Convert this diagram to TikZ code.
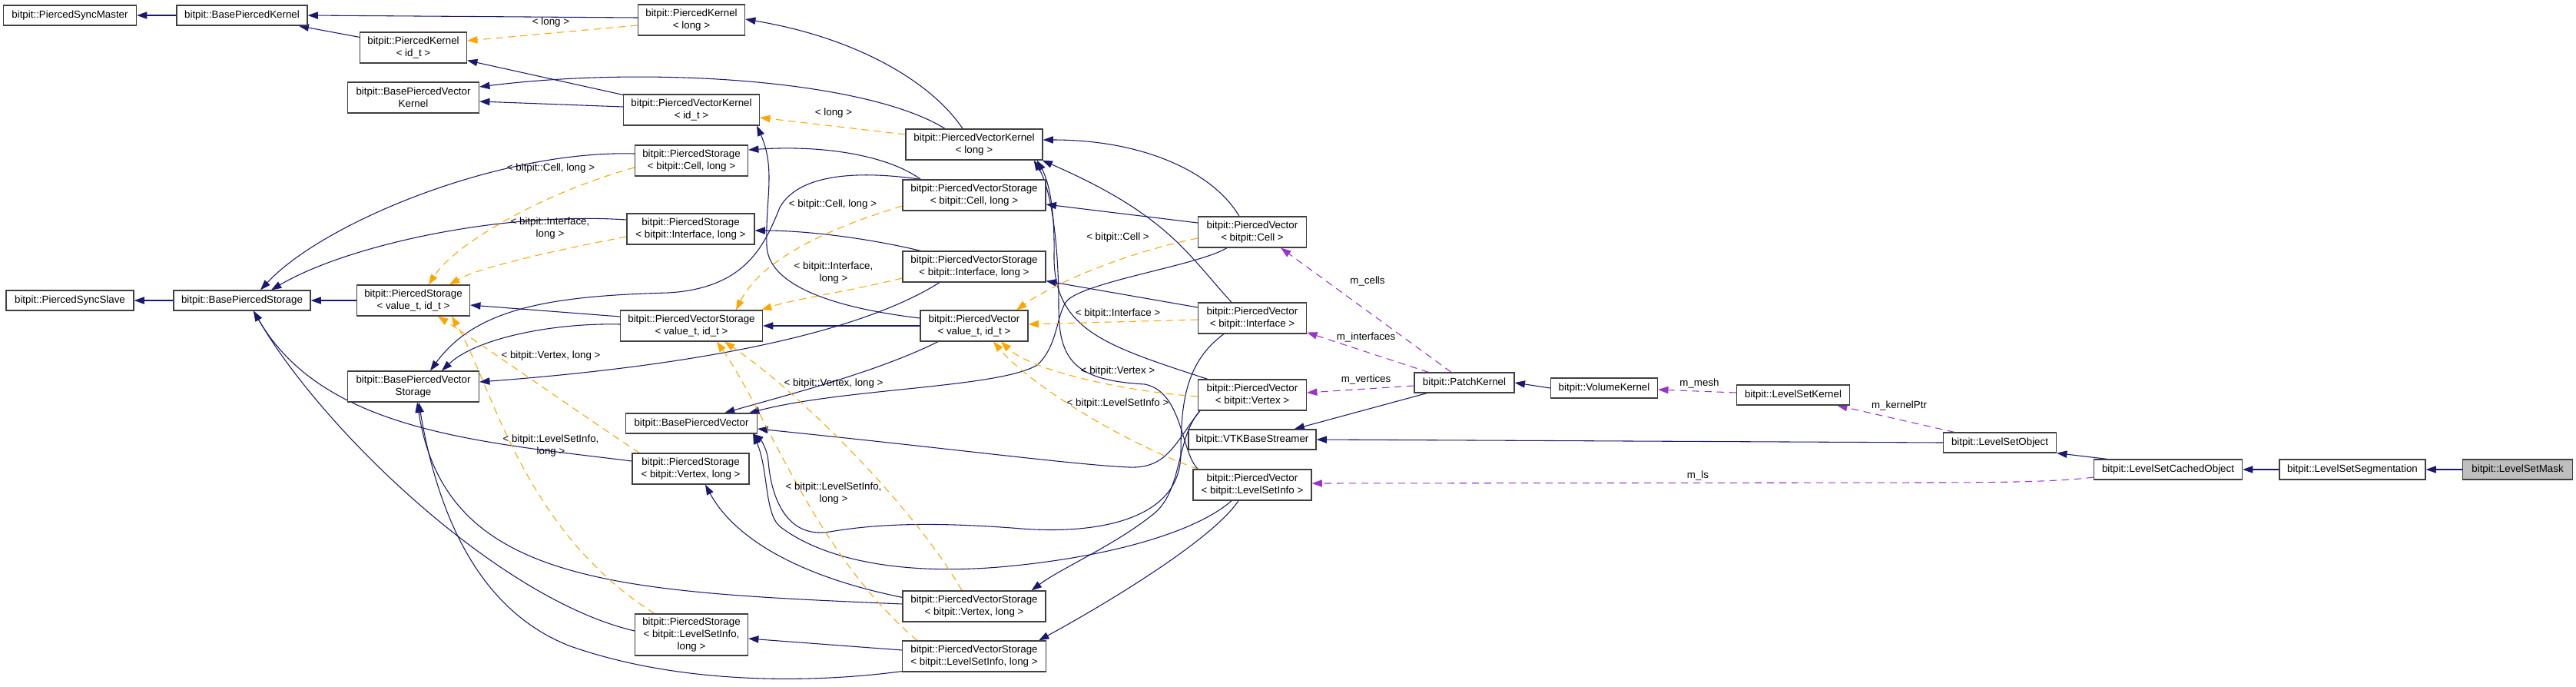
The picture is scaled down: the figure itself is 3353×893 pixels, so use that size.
\documentclass[tikz,border=0pt]{standalone}
\usepackage{fontspec}
\setmainfont{Liberation Sans}
\usetikzlibrary{arrows.meta,calc}
\definecolor{navyc}{HTML}{191970}
\definecolor{orangec}{HTML}{FFA500}
\definecolor{purplec}{HTML}{9A32CD}
\definecolor{maskgray}{HTML}{BFBFBF}
\newcommand\dxf{\fontsize{10pt}{11.8pt}\selectfont}
\pgfdeclarelayer{edges}
\pgfsetlayers{edges,main}
\begin{document}
\begin{tikzpicture}[x=0.75pt,y=-0.75pt,
  box/.style={draw=black!75, line width=0.9pt, fill=white, inner sep=0pt, align=center, font=\dxf},
  hA/.style={minimum height=19.5pt},
  hB/.style={minimum height=30pt},
  hC/.style={minimum height=40.5pt},
  lab/.style={font=\dxf, inner sep=0pt, align=center},
  inhe/.style={draw=navyc, line width=0.8pt, -{Triangle[length=10pt,width=7pt]}},
  tmpe/.style={draw=orangec, line width=0.8pt, dash pattern=on 7pt off 5pt, -{Triangle[length=10pt,width=7pt]}},
  usee/.style={draw=purplec, line width=0.8pt, dash pattern=on 7pt off 5pt, -{Triangle[length=10pt,width=7pt]}}]
\useasboundingbox (0,0) rectangle (3353,893);
% nodes
\node[box,hA,minimum width=129.75pt] (PSM) at (91,20) {bitpit::PiercedSyncMaster};
\node[box,hA,minimum width=127.5pt] (BPK) at (315,20) {bitpit::BasePiercedKernel};
\node[box,hB,minimum width=104.25pt] (PKid) at (538,62) {bitpit::PiercedKernel\\< id\_t >};
\node[box,hB,minimum width=128.25pt] (BPVK) at (538,127) {bitpit::BasePiercedVector\\Kernel};
\node[box,hA,minimum width=124.5pt] (PSS) at (91,391) {bitpit::PiercedSyncSlave};
\node[box,hA,minimum width=133.5pt] (BPS) at (315,391) {bitpit::BasePiercedStorage};
\node[box,hB,minimum width=110.25pt] (PSvid) at (538,391) {bitpit::PiercedStorage\\< value\_t, id\_t >};
\node[box,hB,minimum width=128.25pt] (BPVS) at (538,503) {bitpit::BasePiercedVector\\Storage};
\node[box,hB,minimum width=104.25pt] (PKlong) at (900,26) {bitpit::PiercedKernel\\< long >};
\node[box,hB,minimum width=132.75pt] (PVKid) at (900,143) {bitpit::PiercedVectorKernel\\< id\_t >};
\node[box,hB,minimum width=110.25pt] (PScell) at (900,209) {bitpit::PiercedStorage\\< bitpit::Cell, long >};
\node[box,hB,minimum width=124.5pt] (PSint) at (899,298) {bitpit::PiercedStorage\\< bitpit::Interface, long >};
\node[box,hB,minimum width=138.75pt] (PVSvid) at (900,424) {bitpit::PiercedVectorStorage\\< value\_t, id\_t >};
\node[box,hA,minimum width=128.25pt] (BPV) at (900,551) {bitpit::BasePiercedVector};
\node[box,hB,minimum width=114pt] (PSvert) at (899,610) {bitpit::PiercedStorage\\< bitpit::Vertex, long >};
\node[box,hC,minimum width=110.25pt] (PSlsi) at (900,826) {bitpit::PiercedStorage\\< bitpit::LevelSetInfo,\\ long >};
\node[box,hB,minimum width=133.5pt] (PVKlong) at (1268,188) {bitpit::PiercedVectorKernel\\< long >};
\node[box,hB,minimum width=139.5pt] (PVScell) at (1268,254) {bitpit::PiercedVectorStorage\\< bitpit::Cell, long >};
\node[box,hB,minimum width=139.5pt] (PVSint) at (1268,347) {bitpit::PiercedVectorStorage\\< bitpit::Interface, long >};
\node[box,hB,minimum width=105pt] (PVvid) at (1268,424) {bitpit::PiercedVector\\< value\_t, id\_t >};
\node[box,hB,minimum width=139.5pt] (PVSvert) at (1268,789) {bitpit::PiercedVectorStorage\\< bitpit::Vertex, long >};
\node[box,hB,minimum width=140.25pt] (PVSlsi) at (1268,854) {bitpit::PiercedVectorStorage\\< bitpit::LevelSetInfo, long >};
\node[box,hB,minimum width=105.75pt] (PVcell) at (1630,302) {bitpit::PiercedVector\\< bitpit::Cell >};
\node[box,hB,minimum width=105.75pt] (PVint) at (1630,414) {bitpit::PiercedVector\\< bitpit::Interface >};
\node[box,hB,minimum width=105.75pt] (PVvert) at (1630,514) {bitpit::PiercedVector\\< bitpit::Vertex >};
\node[box,hA,minimum width=124.5pt] (VTK) at (1630,572) {bitpit::VTKBaseStreamer};
\node[box,hB,minimum width=115.5pt] (PVlsi) at (1630,631) {bitpit::PiercedVector\\< bitpit::LevelSetInfo >};
\node[box,hA,minimum width=97.5pt] (PK) at (1906,498) {bitpit::PatchKernel};
\node[box,hA,minimum width=104.25pt] (VK) at (2088,505) {bitpit::VolumeKernel};
\node[box,hA,minimum width=110.25pt] (LSK) at (2334,514) {bitpit::LevelSetKernel};
\node[box,hA,minimum width=110.25pt] (LSO) at (2603,576) {bitpit::LevelSetObject};
\node[box,hA,minimum width=144.75pt] (LSCO) at (2822,611) {bitpit::LevelSetCachedObject};
\node[box,hA,minimum width=142.5pt] (LSS) at (3062,611) {bitpit::LevelSetSegmentation};
\node[box,hA,minimum width=107.25pt,fill=maskgray] (LSM) at (3277,611) {bitpit::LevelSetMask};
% labels
\node[lab] (lA) at (717,29) {< long >};
\node[lab] (lB) at (1085,147) {< long >};
\node[lab] (lC) at (717,219) {< bitpit::Cell, long >};
\node[lab] (lD) at (716,297) {< bitpit::Interface,\\ long >};
\node[lab] (lE) at (717,463) {< bitpit::Vertex, long >};
\node[lab] (lF) at (717,580) {< bitpit::LevelSetInfo,\\ long >};
\node[lab] (lG) at (1084,266) {< bitpit::Cell, long >};
\node[lab] (lH) at (1085,355) {< bitpit::Interface,\\ long >};
\node[lab] (lI) at (1085,499) {< bitpit::Vertex, long >};
\node[lab] (lJ) at (1085,642) {< bitpit::LevelSetInfo,\\ long >};
\node[lab] (lK) at (1455,309) {< bitpit::Cell >};
\node[lab] (lL) at (1455,408) {< bitpit::Interface >};
\node[lab] (lM) at (1455,483) {< bitpit::Vertex >};
\node[lab] (lN) at (1455,525) {< bitpit::LevelSetInfo >};
\node[lab] (lO) at (1780,366) {m\_cells};
\node[lab] (lP) at (1778,439) {m\_interfaces};
\node[lab] (lQ) at (1778,494) {m\_vertices};
\node[lab] (lR) at (2212,499) {m\_mesh};
\node[lab] (lS) at (2472,528) {m\_kernelPtr};
\node[lab] (lT) at (2210,619) {m\_ls};
\begin{pgfonlayer}{edges}
% inheritance
\draw[inhe] (BPK.west) -- (PSM.east);
\draw[inhe] ($(PKlong.west)+(0,-3)$) -- (BPK.east);
\draw[inhe] ($(PKid.north west)+(0,7)$) -- ($(BPK.south east)+(-12,0)$);
\draw[inhe] ($(PVKid.north west)+(0,1)$) -- ($(PKid.south east)+(0,-4)$);
\draw[inhe] ($(PVKid.west)+(0,-4)$) -- ($(BPVK.east)+(0,5)$);
\draw[inhe] ($(PVKlong.north)+(-38,0)$) .. controls (1130,105) and (850,85) .. ($(BPVK.east)+(0,-14)$);
\draw[inhe] ($(PVKlong.north)+(-15,0)$) .. controls (1215,110) and (1120,50) .. ($(PKlong.east)+(0,-1)$);
\draw[inhe] ($(PVcell.north)+(-17,0)$) .. controls (1580,225) and (1490,182) .. ($(PVKlong.east)+(0,-6)$);
\draw[inhe] ($(PVint.north)+(-27,0)$) .. controls (1545,330) and (1520,280) .. ($(PVKlong.south east)+(-1,0)$);
\draw[inhe] ($(PVvert.north west)+(13,0)$) .. controls (1440,450) and (1370,430) .. (1372,330) .. controls (1373,260) and (1362,230) .. ($(PVKlong.south east)+(-8,0)$);
\draw[inhe] ($(PVlsi.north west)+(7,0)$) .. controls (1537,590) and (1540,510) .. (1490,500) .. controls (1400,495) and (1378,470) .. (1378,400) .. controls (1378,300) and (1365,240) .. ($(PVKlong.south east)+(-12,0)$);
\draw[inhe] ($(PVvid.west)+(0,-10)$) .. controls (1080,400) and (1000,370) .. (998,320) .. controls (996,260) and (1010,220) .. ($(PVKid.south east)+(-4,0)$);
\draw[inhe] (PVvid.west) -- (PVSvid.east);
\draw[inhe] ($(PVvid.south)+(-47,0)$) .. controls (1140,485) and (1020,515) .. ($(BPV.north)+(43,0)$);
\draw[inhe] ($(PVcell.south)+(-33,0)$) .. controls (1560,345) and (1420,365) .. (1390,390) .. controls (1375,405) and (1378,450) .. (1350,475) .. controls (1300,505) and (1100,505) .. ($(BPV.north)+(75,0)$);
\draw[inhe] ($(PVvert.south west)+(3,0)$) .. controls (1530,575) and (1520,610) .. (1470,608) .. controls (1400,605) and (1250,585) .. ($(BPV.east)+(0,7)$);
\draw[inhe] ($(PVint.south)+(-37,0)$) .. controls (1545,470) and (1537,520) .. (1537,590) .. controls (1537,680) and (1420,695) .. (1330,688) .. controls (1230,680) and (1150,680) .. (1080,692) .. controls (1020,702) and (1003,640) .. (1000,600) .. controls (999,585) and (990,572) .. ($(BPV.south east)+(-6,0)$);
\draw[inhe] ($(PVlsi.south)+(-27,0)$) .. controls (1560,690) and (1450,725) .. (1300,738) .. controls (1150,750) and (1060,720) .. (1015,685) .. controls (995,668) and (1000,610) .. ($(BPV.south east)+(-6,0)$);
\draw[inhe] ($(PVcell.west)+(0,-12)$) -- ($(PVScell.east)+(0,12)$);
\draw[inhe] ($(PVint.west)+(0,-14)$) -- ($(PVSint.south east)+(0,-2)$);
\draw[inhe] ($(PVvert.south west)+(3,0)$) .. controls (1530,570) and (1540,640) .. (1500,670) .. controls (1450,710) and (1380,740) .. ($(PVSvert.north east)+(-19,0)$);
\draw[inhe] ($(PVlsi.south)+(-18,0)$) .. controls (1580,700) and (1450,780) .. ($(PVSlsi.north east)+(-10,0)$);
\draw[inhe] ($(PVSvid.west)+(0,-12)$) -- ($(PSvid.east)+(0,6)$);
\draw[inhe] ($(PVSvid.west)+(0,-2)$) .. controls (720,420) and (620,440) .. ($(BPVS.north)+(37,0)$);
\draw[inhe] ($(PVScell.north west)+(24,0)$) .. controls (1120,222) and (1040,225) .. (1015,270) .. controls (995,320) and (970,375) .. (870,381) .. controls (720,385) and (620,400) .. ($(BPVS.north)+(22,0)$);
\draw[inhe] ($(PVSint.south)+(-45,0)$) .. controls (1100,445) and (850,480) .. ($(BPVS.east)+(0,-6)$);
\draw[inhe] ($(PVSvert.west)+(0,-3)$) .. controls (800,770) and (580,760) .. ($(BPVS.south)+(5,0)$);
\draw[inhe] ($(PVSlsi.south west)+(0,-1)$) .. controls (1050,890) and (880,890) .. (740,840) .. controls (640,800) and (575,700) .. ($(BPVS.south)+(7,0)$);
\draw[inhe] (PSvid.west) -- (BPS.east);
\draw[inhe] (BPS.west) -- (PSS.east);
\draw[inhe] ($(PScell.west)+(0,-9)$) .. controls (650,195) and (420,290) .. ($(BPS.north)+(24,0)$);
\draw[inhe] ($(PSint.west)+(0,-12)$) .. controls (650,275) and (450,320) .. ($(BPS.north)+(38,0)$);
\draw[inhe] ($(PSvert.west)+(0,-10)$) .. controls (620,575) and (420,560) .. ($(BPS.south)+(15,0)$);
\draw[inhe] ($(PSlsi.west)+(0,-5)$) .. controls (650,780) and (420,560) .. ($(BPS.south)+(15,0)$);
\draw[inhe] ($(PVSvert.north west)+(0,9)$) .. controls (1020,746) and (950,690) .. ($(PSvert.south)+(19,0)$);
\draw[inhe] ($(PVSlsi.west)+(0,-8)$) -- ($(PSlsi.east)+(0,5)$);
\draw[inhe] ($(PVScell.north west)+(24,0)$) .. controls (1160,205) and (1080,188) .. ($(PScell.east)+(0,-14)$);
\draw[inhe] ($(PVSint.north west)+(24,0)$) .. controls (1130,310) and (1050,300) .. ($(PSint.east)+(0,2)$);
\draw[inhe] (VK.west) -- (PK.east);
\draw[inhe] ($(PK.south west)+(17,0)$) -- ($(VTK.north east)+(-29,0)$);
\draw[inhe] (LSO.west) -- (VTK.east);
\draw[inhe] ($(LSCO.north west)+(18,0)$) -- (LSO.south east);
\draw[inhe] (LSS.west) -- (LSCO.east);
\draw[inhe] (LSM.west) -- (LSS.east);
% template instances
\draw[tmpe] ($(PKlong.west)+(0,7)$) -- ($(PKid.east)+(0,-9)$);
\draw[tmpe] ($(PVKlong.west)+(0,-13)$) -- ($(PVKid.east)+(0,10)$);
\draw[tmpe] ($(PScell.west)+(0,9)$) .. controls (700,253) and (590,320) .. ($(PSvid.north)+(20,0)$);
\draw[tmpe] ($(PSint.west)+(0,10)$) .. controls (700,330) and (620,350) .. ($(PSvid.north)+(47,0)$);
\draw[tmpe] ($(PSvert.north west)+(10,0)$) .. controls (750,535) and (630,450) .. ($(PSvid.south)+(32,0)$);
\draw[tmpe] ($(PSlsi.north west)+(26,0)$) .. controls (680,690) and (640,500) .. ($(PSvid.south)+(50,0)$);
\draw[tmpe] ($(PVScell.west)+(0,14)$) .. controls (1069,300) and (990,340) .. ($(PVSvid.north)+(58,0)$);
\draw[tmpe] ($(PVSint.west)+(0,15)$) .. controls (1100,380) and (1030,390) .. ($(PVSvid.north east)+(-2,0)$);
\draw[tmpe] ($(PVSvert.north)+(-16,0)$) .. controls (1190,660) and (1040,510) .. ($(PVSvid.south)+(43,0)$);
\draw[tmpe] ($(PVSlsi.north west)+(20,0)$) .. controls (1060,720) and (1000,540) .. ($(PVSvid.south)+(33,0)$);
\draw[tmpe] ($(PVcell.west)+(0,8)$) .. controls (1460,330) and (1370,370) .. ($(PVvid.north)+(55,0)$);
\draw[tmpe] ($(PVint.west)+(0,2)$) -- ($(PVvid.east)+(0,-2)$);
\draw[tmpe] ($(PVvert.west)+(0,2)$) .. controls (1450,508) and (1340,480) .. ($(PVvid.south)+(35,0)$);
\draw[tmpe] ($(PVlsi.north west)+(7,0)$) .. controls (1460,575) and (1340,500) .. ($(PVvid.south)+(25,0)$);
% usage
\draw[usee] ($(PK.north)+(-17,0)$) -- ($(PVcell.south east)+(-34,0)$);
\draw[usee] ($(PK.north west)+(19,0)$) -- ($(PVint.south east)+(0,-2)$);
\draw[usee] ($(PK.west)+(0,4)$) -- ($(PVvert.east)+(0,-3)$);
\draw[usee] ($(LSK.west)+(0,-3)$) -- ($(VK.east)+(0,2)$);
\draw[usee] ($(LSO.north west)+(15,0)$) -- ($(LSK.south east)+(-17,0)$);
\draw[usee] ($(LSCO.west)+(0,10)$) .. controls (2680,627) and (2600,628) .. (2500,628) -- ($(PVlsi.east)+(0,-2)$);
\end{pgfonlayer}
\end{tikzpicture}
\end{document}
